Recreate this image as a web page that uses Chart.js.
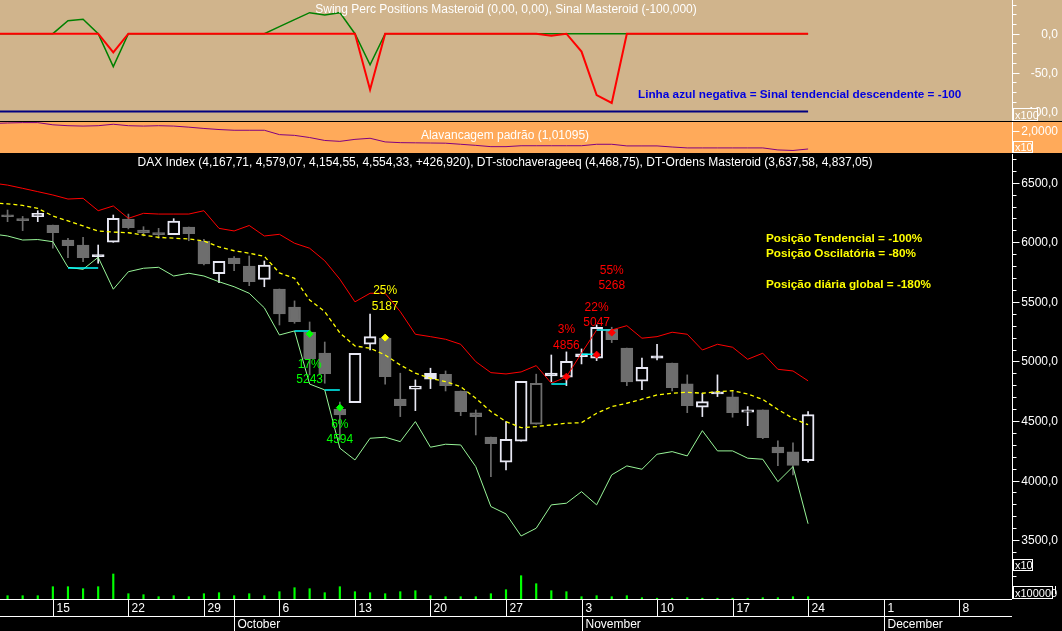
<!DOCTYPE html>
<html>
<head>
<meta charset="utf-8">
<script src="https://cdn.jsdelivr.net/npm/chart.js@4/dist/chart.umd.min.js"></script>
<style>
  html, body { margin: 0; padding: 0; background: #000; }
  #wrap { position: relative; width: 1062px; height: 631px; overflow: hidden; background: #000; }
  canvas { position: absolute; left: 0; }
</style>
</head>
<body>
<div id="wrap">
  <canvas id="swing" width="1062" height="121" style="top:0"></canvas>
  <canvas id="lev" width="1062" height="31" style="top:122px"></canvas>
  <canvas id="price" width="1062" height="477" style="top:154px"></canvas>
</div>
<script>
// trading days on the axis (09/09 sits just left of the plot, the tail is empty space)
const days = ['09/09','10/09','11/09','12/09','15/09','16/09','17/09','18/09','19/09','22/09','23/09','24/09','25/09','26/09','29/09','30/09',
  '01/10','02/10','03/10','06/10','07/10','08/10','09/10','10/10','13/10','14/10','15/10','16/10','17/10','20/10','21/10','22/10','23/10','24/10','27/10','28/10','29/10','30/10','31/10',
  '03/11','04/11','05/11','06/11','07/11','10/11','11/11','12/11','13/11','14/11','17/11','18/11','19/11','20/11','21/11','24/11','25/11','26/11','27/11','28/11',
  '01/12','02/12','03/12','04/12','05/12','08/12','09/12','10/12','11/12'];
const firstShown = '10/09';

// DAX candles, 10/09 .. 24/11
const open = [6230,6198,6215,6145,6019,5977,5885,6000,6195,6103,6078,6064,6128,6011,5737,
  5868,5801,5689,5608,5457,5247,5071,4601,4654,5144,5197,4685,4767,4901,4892,4752,4568,4366,4154,4330,4473,4903,4867,
  5063,5027,5270,5113,4834,5048,4987,4811,4616,4738,4702,4574,4593,4282,4241,4167.71];
const high = [6271,6217,6265,6145,6033,6042,5977,6229,6237,6131,6117,6198,6128,6025,5840,
  5879,5885,5843,5608,5508,5331,5163,4658,5069,5398,5197,4901,4845,4943,4920,4752,4593,4366,4495,4834,4893,5054,5080,
  5105,5306,5287,5113,5029,5144,4987,4887,4733,4887,4746,4621,4593,4333,4316,4579.07];
const low = [6173,6098,6173,5950,5871,5837,5824,6000,6112,6053,6033,6064,6013,5810,5661,
  5762,5636,5627,5306,5320,4887,4817,4341,4654,5096,4809,4537,4587,4772,4752,4545,4383,4033,4090,4330,4473,4830,4797,
  4979,5007,5158,4797,4763,5012,4752,4570,4537,4705,4532,4461,4352,4126,4048,4154.55];
const close = [6214,6182,6243,6080,5971,5871,5879,6201,6122,6080,6064,6179,6072,5818,5840,
  5820,5669,5809,5398,5334,5023,4897,4551,5069,5208,4872,4629,4794,4851,4797,4579,4537,4310,4347,4834,4817,4878,5001,
  5040,5287,5183,4828,4951,5027,4780,4629,4663,4727,4570,4593,4361,4232,4127.41,4554.33];
const closeBefore = 6236; // 09/09, off screen
const volume = [33,33,33,123,123,103,123,250,53,43,23,33,23,53,63,
  33,53,33,73,113,103,63,123,73,63,53,73,83,33,23,23,23,53,93,233,153,83,73,
  23,33,23,33,13,8,8,13,8,8,8,8,13,13,23,23];

// indicator lines, 09/09 .. 24/11
const ordUpper = [6497,6480,6453,6425,6397,6363,6369,6265,6305,6201,6243,6237,6237,6237,6265,6117,
  6095,6141,6053,6067,5992,5950,5845,5690,5500,5572,5572,5418,5228,5208,5186,5144,4998,4906,4895,4912,4965,4817,4870,
  5070,5264,5264,5300,5195,5208,5245,5228,5096,5144,5119,5018,5069,4934,4920,4837.05];
const ordLower = [6070,6053,6019,6023,6005,5790,5773,5874,5606,5753,5782,5790,5717,5740,5717,5669,
  5627,5572,5450,5222,5256,4810,4761,4272,4173,4355,4364,4327,4495,4280,4305,4299,4117,3782,3720,3535,3600,3796,3810,
  3907,3796,4048,4123,4095,4221,4243,4207,4419,4249,4249,4188,4179,3991,4117,3637.58];
const stochAvg = [6331,6323,6309,6285,6221,6179,6137,6095,6086,6080,6061,6042,6034,6028,6011,5961,
  5929,5908,5882,5743,5698,5516,5418,5239,5130,5111,5054,4970,4901,4859,4830,4788,4691,4579,4495,4444,4453,4467,4481,
  4486,4565,4621,4649,4683,4719,4733,4741,4733,4746,4755,4727,4681,4597,4522,4468.75];

const swingPerc = [0,0,0,0,0,16.7,18.5,0,-42.4,0,0,0,0,0,0,0,
  0,0,0,9,18,27,24,27,0,-40,0,0,0,0,0,0,0,0,0,0,0,0,0,
  0,0,0,0,0,0,0,0,0,0,0,0,0,0,0,0];
const sinal = [0,0,0,0,0,0,0,0,-24,0,0,0,0,0,0,0,
  0,0,0,0,0,0,0,0,0,-72,0,0,0,0,0,0,0,0,0,0,0,-2.6,0,
  -23,-79,-89,0,0,0,0,0,0,0,0,0,0,0,0,0];
const trendSignal = [-100,-100,-100,-100,-100,-100,-100,-100,-100,-100,-100,-100,-100,-100,-100,-100,
  -100,-100,-100,-100,-100,-100,-100,-100,-100,-100,-100,-100,-100,-100,-100,-100,-100,-100,-100,-100,-100,-100,-100,
  -100,-100,-100,-100,-100,-100,-100,-100,-100,-100,-100,-100,-100,-100,-100,-100];
const leverage = [2.41,2.44,2.46,2.46,2.34,2.29,2.27,2.29,2.37,2.29,2.27,2.29,2.27,2.21,2.14,2.08,
  2.04,2.04,2.04,1.80,1.76,1.64,1.48,1.43,1.54,1.60,1.40,1.36,1.35,1.34,1.33,1.27,1.21,1.14,1.14,1.19,1.19,1.19,1.19,
  1.19,1.27,1.27,1.18,1.18,1.18,1.12,1.07,1.07,1.07,1.07,1.07,1.07,0.96,0.93,1.01095];

// order signals
const markerDays = ['08/10','10/10','15/10','31/10','04/11','05/11'];
const markerPrice = [5231,4612,5200,4872,5057,5242];
const markerPct = ['17%','6%','25%','3%','22%','55%'];
const markerLevel = ['5243','4594','5187','4856','5047','5268'];
const markerKind = ['buy','buy','hold','sell','sell','sell'];
const cyanFrom = ['16/09','07/10','09/10','30/10','03/11','04/11'];
const cyanTo = ['18/09','08/10','10/10','31/10','04/11','05/11'];
const cyanLevel = [5785,5256,4761,4811,5060,5264];

// axis ticks
const priceTicks = [3500,4000,4500,5000,5500,6000,6500];
const swingTicks = [0,-50,-100];
const levTicks = [2];
const weekTicks = ['15/09','22/09','29/09','06/10','13/10','20/10','27/10','03/11','10/11','17/11','24/11','01/12','08/12'];
const monthTicks = ['01/10','03/11','01/12'];
const monthNames = ['October','November','December'];

const FONT = "12px 'Liberation Sans', Arial, sans-serif";
const BOLD = "bold 11.75px 'Liberation Sans', Arial, sans-serif";
const WHITE = '#e8e8f4';
const GRAY = '#6e6e6e';
const kindColor = {buy: '#00ff00', hold: '#ffff00', sell: '#ff0000'};

// put a series on the day axis, starting at the given day
const at = (values, first) => {
  const start = days.indexOf(first);
  return days.map((d, i) => (i >= start && i - start < values.length) ? values[i - start] : null);
};
const tradeIdx = (ctx) => ctx.dataIndex - days.indexOf(firstShown);
const tone = (i) => close[i] >= (i ? close[i - 1] : closeBefore) ? WHITE : GRAY;

const xAxis = () => ({
  type: 'category', labels: days, min: firstShown, offset: true, display: false, grid: {display: false}
});
const yRight = (min, max) => ({
  position: 'right', min: min, max: max,
  ticks: {display: false}, grid: {display: false}, border: {display: false},
  afterFit: (s) => { s.width = 50; }
});
const fmt = (d) => (v) => v.toFixed(d).replace('.', ',');

function panelPlugin(cfg) {
  return {
    id: 'panel',
    beforeDraw(chart) {
      const ctx = chart.ctx;
      ctx.save();
      ctx.fillStyle = cfg.bg;
      ctx.fillRect(0, 0, chart.width, chart.height);
      ctx.restore();
    },
    afterDraw(chart) {
      const {ctx, chartArea: ca} = chart;
      const y = chart.scales.y;
      const ax = Math.round(ca.right) + 0.5;
      ctx.save();
      ctx.strokeStyle = '#fff';
      ctx.lineWidth = 1;
      ctx.beginPath(); ctx.moveTo(ax, ca.top); ctx.lineTo(ax, ca.bottom); ctx.stroke();
      if (cfg.minor) {
        for (let k = Math.ceil(y.min / cfg.minor); k * cfg.minor <= y.max; k++) {
          const py = Math.round(y.getPixelForValue(k * cfg.minor)) + 0.5;
          ctx.beginPath(); ctx.moveTo(ax, py); ctx.lineTo(ax + 4, py); ctx.stroke();
        }
      }
      ctx.fillStyle = '#fff';
      ctx.font = FONT;
      ctx.textAlign = 'right';
      ctx.textBaseline = 'middle';
      cfg.major.forEach((v) => {
        const py = Math.round(y.getPixelForValue(v)) + 0.5;
        ctx.beginPath(); ctx.moveTo(ax, py); ctx.lineTo(ax + 7, py); ctx.stroke();
        ctx.fillText(cfg.fmt(v), 1058, py);
      });
      // multiplier boxes
      ctx.textAlign = 'left';
      ctx.font = "11px 'Liberation Sans', Arial, sans-serif";
      (cfg.boxes || []).forEach((b) => {
        ctx.fillStyle = cfg.bg;
        ctx.fillRect(b.x, b.y, b.w, b.h);
        ctx.strokeRect(b.x + 0.5, b.y + 0.5, b.w - 1, b.h - 1);
        ctx.fillStyle = '#fff';
        ctx.fillText(b.text, b.x + 2, b.y + b.h / 2 + 1);
      });
      (cfg.texts || []).forEach((t) => {
        ctx.font = t.font || FONT;
        ctx.fillStyle = t.color || '#fff';
        ctx.textAlign = t.align || 'left';
        ctx.fillText(t.text, t.x, t.y);
      });
      if (cfg.extra) cfg.extra(chart, ctx);
      ctx.restore();
    }
  };
}

const baseOptions = {
  responsive: false, animation: false, devicePixelRatio: 1, events: [],
  layout: {padding: 0, autoPadding: false},
  plugins: {legend: {display: false}, tooltip: {enabled: false}}
};

// ---- Swing Perc Positions panel
new Chart(document.getElementById('swing'), {
  type: 'line',
  data: {
    datasets: [
      {data: at(sinal, '09/09'), borderColor: '#ff0000', borderWidth: 2, pointRadius: 0, order: 0},
      {data: at(swingPerc, '09/09'), borderColor: '#008000', borderWidth: 1.5, pointRadius: 0, order: 1},
      {data: at(trendSignal, '09/09'), borderColor: '#000080', borderWidth: 2, pointRadius: 0, order: 2}
    ]
  },
  options: Object.assign({}, baseOptions, {
    scales: {x: xAxis(), y: yRight(-112.2, 43.3)}
  }),
  plugins: [panelPlugin({
    bg: '#d0b48c', minor: 12.5, major: swingTicks, fmt: fmt(1),
    boxes: [{x: 1013, y: 108, w: 25, h: 13, text: 'x100'}],
    texts: [
      {text: 'Swing Perc Positions Masteroid (0,00, 0,00), Sinal Masteroid (-100,000)', x: 506, y: 10, align: 'center'},
      {text: 'Linha azul negativa = Sinal tendencial descendente = -100', x: 638, y: 95, font: BOLD, color: '#0000e0'}
    ]
  })]
});

// ---- Alavancagem panel
new Chart(document.getElementById('lev'), {
  type: 'line',
  data: {
    datasets: [
      {data: at(leverage, '09/09'), borderColor: '#800080', borderWidth: 1, pointRadius: 0}
    ]
  },
  options: Object.assign({}, baseOptions, {
    scales: {x: xAxis(), y: yRight(0.791, 2.494)}
  }),
  plugins: [panelPlugin({
    bg: '#ffaa5a', minor: null, major: levTicks, fmt: fmt(4),
    boxes: [{x: 1013, y: 19, w: 20, h: 12, text: 'x10'}],
    texts: [{text: 'Alavancagem padrão (1,01095)', x: 505, y: 14, align: 'center'}]
  })]
});

// ---- DAX price panel
const markerData = days.map((d) => {
  const k = markerDays.indexOf(d);
  return k < 0 ? null : markerPrice[k];
});
const markerColor = (ctx) => {
  const k = markerDays.indexOf(days[ctx.dataIndex]);
  return k < 0 ? 'transparent' : kindColor[markerKind[k]];
};
const cyanSets = cyanFrom.map((f, k) => {
  const a = days.indexOf(f), b = days.indexOf(cyanTo[k]);
  return {
    type: 'line', data: days.map((d, i) => (i >= a && i <= b) ? cyanLevel[k] : null),
    borderColor: '#00ffff', borderWidth: 1.5, pointRadius: 0, order: 1
  };
});
// label offsets of the signal texts (pct, level) from their marker
const labelGap = [[31, 46], [17, 32], [-47, -31], [-47, -31], [-47, -32], [-62, -47]];

function drawDateAxis(chart, ctx) {
  const x = chart.scales.x;
  const ca = chart.chartArea;
  const yTop = Math.round(ca.bottom) + 0.5;
  const yMid = yTop + 17;
  const right = Math.round(ca.right);
  ctx.strokeStyle = '#fff';
  ctx.fillStyle = '#fff';
  ctx.font = FONT;
  ctx.textAlign = 'left';
  ctx.textBaseline = 'middle';
  ctx.beginPath();
  ctx.moveTo(0, yTop); ctx.lineTo(right, yTop);
  ctx.moveTo(0, yMid); ctx.lineTo(right, yMid);
  ctx.stroke();
  weekTicks.forEach((d) => {
    const px = Math.round(x.getPixelForValue(days.indexOf(d))) + 0.5;
    ctx.beginPath(); ctx.moveTo(px, yTop); ctx.lineTo(px, yMid); ctx.stroke();
    ctx.fillText(String(parseInt(d, 10)), px + 3, yTop + 9);
  });
  monthTicks.forEach((d, k) => {
    const px = Math.round(x.getPixelForValue(days.indexOf(d))) + 0.5;
    ctx.beginPath(); ctx.moveTo(px, yTop); ctx.lineTo(px, chart.height); ctx.stroke();
    ctx.fillText(monthNames[k], px + 3, yMid + 8);
  });
  // signal labels
  const meta = chart.getDatasetMeta(0);
  ctx.textAlign = 'center';
  markerDays.forEach((d, k) => {
    const pt = meta.data[days.indexOf(d)];
    if (!pt) return;
    ctx.fillStyle = kindColor[markerKind[k]];
    ctx.fillText(markerPct[k], pt.x, pt.y + labelGap[k][0]);
    ctx.fillText(markerLevel[k], pt.x, pt.y + labelGap[k][1]);
  });
  // small mark right of the volume box
  ctx.strokeStyle = '#fff';
  ctx.beginPath(); ctx.moveTo(1055.5, ca.bottom - 13); ctx.lineTo(1055.5, ca.bottom - 5); ctx.stroke();
}

new Chart(document.getElementById('price'), {
  data: {
    datasets: [
      {type: 'line', data: markerData, showLine: false, pointStyle: 'rectRot', pointRadius: 3.5,
        pointBackgroundColor: markerColor, pointBorderColor: markerColor, order: 0},
      ...cyanSets,
      {type: 'line', data: at(ordUpper, '09/09'), borderColor: '#ff0000', borderWidth: 1, pointRadius: 0, order: 2},
      {type: 'line', data: at(stochAvg, '09/09'), borderColor: '#ffff00', borderWidth: 1.3, borderDash: [4, 3], pointRadius: 0, order: 2},
      {type: 'line', data: at(ordLower, '09/09'), borderColor: '#98f598', borderWidth: 1, pointRadius: 0, order: 2},
      {type: 'bar', data: at(open.map((o, i) => [o, close[i]]), firstShown), grouped: false, barThickness: 12,
        minBarLength: 2, borderWidth: 2, borderSkipped: false,
        borderColor: (ctx) => tone(tradeIdx(ctx)),
        backgroundColor: (ctx) => { const i = tradeIdx(ctx); return close[i] < open[i] ? tone(i) : '#000'; },
        order: 5},
      {type: 'bar', data: at(low.map((l, i) => [l, high[i]]), firstShown), grouped: false, barThickness: 1,
        backgroundColor: (ctx) => tone(tradeIdx(ctx)), borderWidth: 0, order: 6},
      {type: 'bar', yAxisID: 'vol', data: at(volume, firstShown), grouped: false, barThickness: 1.5,
        backgroundColor: '#00ff00', borderWidth: 0, order: 7}
    ]
  },
  options: Object.assign({}, baseOptions, {
    layout: {padding: {bottom: 32}, autoPadding: false},
    scales: {
      x: xAxis(),
      y: yRight(3006, 6741),
      vol: {display: false, min: 0, max: 4450}
    }
  }),
  plugins: [panelPlugin({
    bg: '#000', minor: 100, major: priceTicks, fmt: fmt(1),
    boxes: [{x: 1013, y: 405, w: 20, h: 12, text: 'x10'}, {x: 1013, y: 432, w: 40, h: 13, text: 'x100000'}],
    texts: [
      {text: 'DAX Index (4,167,71, 4,579,07, 4,154,55, 4,554,33, +426,920), DT-stochaverageeq (4,468,75), DT-Ordens Masteroid (3,637,58, 4,837,05)',
        x: 505, y: 9, align: 'center'},
      {text: 'Posição Tendencial = -100%', x: 766, y: 85, font: BOLD, color: '#ffff00'},
      {text: 'Posição Oscilatória = -80%', x: 766, y: 100, font: BOLD, color: '#ffff00'},
      {text: 'Posição diária global = -180%', x: 766, y: 131, font: BOLD, color: '#ffff00'}
    ],
    extra: drawDateAxis
  })]
});
</script>
</body>
</html>
